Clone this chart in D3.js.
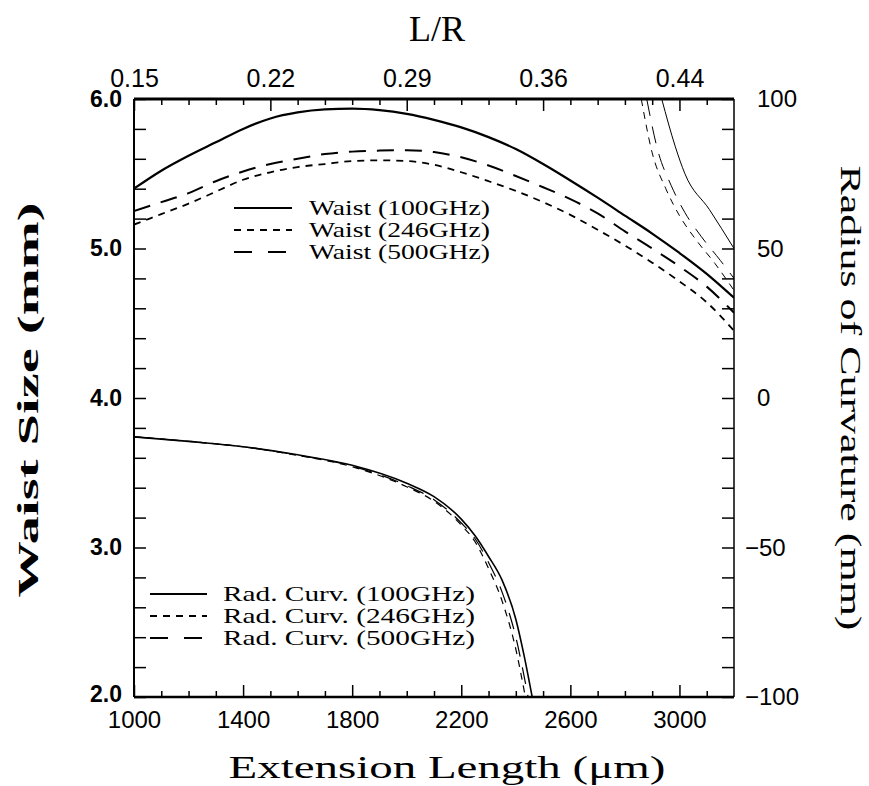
<!DOCTYPE html>
<html>
<head>
<meta charset="utf-8">
<script src="https://cdn.jsdelivr.net/npm/d3@7"></script>
<style>
  body { margin: 0; background: #fff; }
  svg { display: block; }
</style>
</head>
<body>
<div id="chart"></div>
<script>
// extension length (um) where the waist curves were read
const waistLength = [1000,1100,1200,1300,1400,1500,1600,1700,1800,1900,2000,2100,2200,2300,2400,2500,2600,2700,2800,2900,3000,3100,3200];
const waist100 = [5.40,5.52,5.62,5.71,5.80,5.87,5.91,5.93,5.935,5.925,5.90,5.86,5.81,5.745,5.665,5.565,5.455,5.34,5.22,5.10,4.97,4.83,4.67];
const waist246 = [5.16,5.23,5.30,5.38,5.46,5.51,5.545,5.565,5.585,5.59,5.585,5.56,5.51,5.45,5.385,5.31,5.225,5.125,5.02,4.905,4.78,4.64,4.45];
const waist500 = [5.25,5.31,5.37,5.45,5.515,5.565,5.60,5.632,5.648,5.655,5.658,5.645,5.61,5.555,5.485,5.41,5.33,5.235,5.115,5.00,4.88,4.745,4.57];

// radius of curvature (mm), lower branch
const curvLength100 = [1000,1200,1400,1600,1800,2000,2100,2200,2250,2300,2350,2400,2430,2460];
const curv100 = [-13,-14.5,-16.3,-19,-22.5,-28.5,-33,-40.5,-46,-53,-61,-74,-86,-100];
const curvLength246 = [1000,1200,1400,1600,1800,2000,2100,2200,2250,2300,2350,2400,2435];
const curv246 = [-13,-14.5,-16.3,-19.2,-23,-29.7,-34.5,-42.5,-48,-57,-68,-84,-100];
const curvLength500 = [1000,1200,1400,1600,1800,2000,2100,2200,2250,2300,2350,2400,2445];
const curv500 = [-13,-14.5,-16.3,-19.1,-22.8,-29.3,-34,-41.8,-47,-55,-65,-80,-100];

// radius of curvature, upper branch (comes back from +inf)
const curvUpLength100 = [2935,2985,3020,3110,3200];
const curvUp100 = [100,84,75,63,50];
const curvUpLength246 = [2860,2900,2950,3000,3060,3130,3200];
const curvUp246 = [100,82,70,61,53,45,36];
const curvUpLength500 = [2880,2920,2970,3020,3080,3150,3200];
const curvUp500 = [100,83,71,62,54,46,40];

const xTicks = [1000,1400,1800,2200,2600,3000];
const topTickPos = [1000,1500,2000,2500,3000];
const topTickLabels = ["0.15","0.22","0.29","0.36","0.44"];
const waistTicks = [2,3,4,5,6];
const curvTicks = [-100,-50,0,50,100];
const waistLegend = ["Waist (100GHz)","Waist (246GHz)","Waist (500GHz)"];
const curvLegend = ["Rad. Curv. (100GHz)","Rad. Curv. (246GHz)","Rad. Curv. (500GHz)"];

const width = 869, height = 786;
const plot = { left: 134, right: 734, top: 99, bottom: 697 };

const svg = d3.select("#chart")
    .append("svg")
    .attr("width", width)
    .attr("height", height)
    .style("background", "#fff");

const x = d3.scaleLinear().domain([1000, 3200]).range([plot.left, plot.right]);
const yWaist = d3.scaleLinear().domain([2, 6]).range([plot.bottom, plot.top]);
const yCurv = d3.scaleLinear().domain([-100, 100]).range([plot.bottom, plot.top]);

const tickFont = "'Liberation Sans', Arial, sans-serif";
const serif = "'Liberation Serif', 'DejaVu Serif', serif";

// minor ticks every 100 um, majors from the arrays
const minorX = d3.range(1100, 3200, 100).filter(d => !xTicks.includes(d));
const minorTop = d3.range(1100, 3200, 100).filter(d => !topTickPos.includes(d));

function styleAxis(g) {
    g.select(".domain").remove();
    g.selectAll(".tick line").attr("stroke", "#000").attr("stroke-width", 1.5);
    g.selectAll("text").attr("fill", "#000");
}

// bottom axis
svg.append("g")
    .attr("transform", `translate(0,${plot.bottom})`)
    .call(d3.axisBottom(x).tickValues(minorX).tickSize(-6).tickFormat(""))
    .call(styleAxis);
svg.append("g")
    .attr("transform", `translate(0,${plot.bottom})`)
    .call(d3.axisBottom(x).tickValues(xTicks).tickSize(-12).tickPadding(14).tickFormat(d3.format("d")))
    .call(styleAxis)
    .selectAll("text")
    .style("font-family", tickFont)
    .style("font-size", "24px");

// top axis (L/R)
svg.append("g")
    .attr("transform", `translate(0,${plot.top})`)
    .call(d3.axisTop(x).tickValues(minorTop).tickSize(-6).tickFormat(""))
    .call(styleAxis);
svg.append("g")
    .attr("transform", `translate(0,${plot.top})`)
    .call(d3.axisTop(x).tickValues(topTickPos).tickSize(-12).tickPadding(12).tickFormat((d, i) => topTickLabels[i]))
    .call(styleAxis)
    .selectAll("text")
    .style("font-family", tickFont)
    .style("font-size", "25px");

// left axis (waist)
svg.append("g")
    .attr("transform", `translate(${plot.left},0)`)
    .call(d3.axisLeft(yWaist).tickValues(d3.range(20, 61, 2).map(d => d / 10)).tickSize(-12).tickPadding(12)
        .tickFormat(d => waistTicks.includes(d) ? d.toFixed(1) : ""))
    .call(styleAxis)
    .selectAll("text")
    .attr("dy", d => d === 2 ? "0.2em" : "0.32em")
    .style("font-family", tickFont)
    .style("font-size", "23px")
    .style("font-weight", "bold");

// right axis (radius of curvature)
svg.append("g")
    .attr("transform", `translate(${plot.right},0)`)
    .call(d3.axisRight(yCurv).tickValues(d3.range(-100, 101, 10)).tickSize(-12)
        .tickFormat(d => curvTicks.includes(d) ? (d < 0 ? "\u2212" + (-d) : d) : ""))
    .call(styleAxis)
    .selectAll("text")
    .attr("x", d => d < 0 ? 11 : 23)
    .style("font-family", tickFont)
    .style("font-size", "24px");

// frame
const frame = svg.append("g").attr("stroke", "#000").attr("fill", "none");
frame.append("line").attr("x1", plot.left).attr("x2", plot.right).attr("y1", plot.top).attr("y2", plot.top).attr("stroke-width", 3);
frame.append("line").attr("x1", plot.left).attr("x2", plot.right).attr("y1", plot.bottom).attr("y2", plot.bottom).attr("stroke-width", 2.5);
frame.append("line").attr("x1", plot.left).attr("x2", plot.left).attr("y1", plot.top).attr("y2", plot.bottom).attr("stroke-width", 2);
frame.append("line").attr("x1", plot.right).attr("x2", plot.right).attr("y1", plot.top).attr("y2", plot.bottom).attr("stroke-width", 1.5);

// curves
svg.append("clipPath").attr("id", "clip")
    .append("rect")
    .attr("x", plot.left).attr("y", plot.top)
    .attr("width", plot.right - plot.left).attr("height", plot.bottom - plot.top);

const curves = svg.append("g").attr("clip-path", "url(#clip)").attr("fill", "none").attr("stroke", "#000");

const styles = {
    "100": { dash: null },
    "246": { dash: "7,6" },
    "500": { dash: "17,11" }
};

function drawCurve(xs, ys, yScale, key, w) {
    const pts = xs.map((d, i) => [d, ys[i]]);
    const line = d3.line().x(d => x(d[0])).y(d => yScale(d[1])).curve(d3.curveMonotoneX);
    curves.append("path")
        .datum(pts)
        .attr("d", line)
        .attr("stroke-width", w)
        .attr("stroke-dasharray", styles[key].dash);
}

drawCurve(waistLength, waist100, yWaist, "100", 2.2);
drawCurve(waistLength, waist246, yWaist, "246", 1.8);
drawCurve(waistLength, waist500, yWaist, "500", 2);

drawCurve(curvLength100, curv100, yCurv, "100", 1.6);
drawCurve(curvLength246, curv246, yCurv, "246", 1.2);
drawCurve(curvLength500, curv500, yCurv, "500", 1.2);

drawCurve(curvUpLength100, curvUp100, yCurv, "100", 1);
drawCurve(curvUpLength246, curvUp246, yCurv, "246", 1);
drawCurve(curvUpLength500, curvUp500, yCurv, "500", 1);

// legends
function drawLegend(labels, x1, x2, tx, ys, textLen, lw) {
    const g = svg.append("g");
    ["100", "246", "500"].forEach((k, i) => {
        g.append("line")
            .attr("x1", x1).attr("x2", x2)
            .attr("y1", ys[i]).attr("y2", ys[i])
            .attr("stroke", "#000")
            .attr("stroke-width", lw)
            .attr("stroke-dasharray", k === "500" ? "18,16" : styles[k].dash);
        g.append("text")
            .attr("x", tx).attr("y", ys[i] + 7)
            .attr("textLength", textLen)
            .attr("lengthAdjust", "spacingAndGlyphs")
            .style("font-family", serif)
            .style("font-size", "21px")
            .text(labels[i]);
    });
}
drawLegend(waistLegend, 234, 292, 309, [208, 230, 252], 181, 2);
drawLegend(curvLegend, 150, 207, 223, [594, 616, 638], 252, 2);

// axis titles
svg.append("text")
    .attr("x", 437).attr("y", 41)
    .attr("text-anchor", "middle")
    .style("font-family", serif)
    .style("font-size", "36px")
    .text("L/R");

svg.append("text")
    .attr("x", 447).attr("y", 778)
    .attr("text-anchor", "middle")
    .attr("textLength", 437)
    .attr("lengthAdjust", "spacingAndGlyphs")
    .style("font-family", serif)
    .style("font-size", "31px")
    .text("Extension Length (\u03bcm)");

svg.append("text")
    .attr("transform", "translate(38,400) rotate(-90)")
    .attr("text-anchor", "middle")
    .attr("textLength", 395)
    .attr("lengthAdjust", "spacingAndGlyphs")
    .style("font-family", serif)
    .style("font-size", "30px")
    .style("font-weight", "bold")
    .text("Waist Size (mm)");

svg.append("text")
    .attr("transform", "translate(841,398) rotate(90)")
    .attr("text-anchor", "middle")
    .attr("textLength", 465)
    .attr("lengthAdjust", "spacingAndGlyphs")
    .style("font-family", serif)
    .style("font-size", "30px")
    .text("Radius of Curvature (mm)");
</script>
</body>
</html>
